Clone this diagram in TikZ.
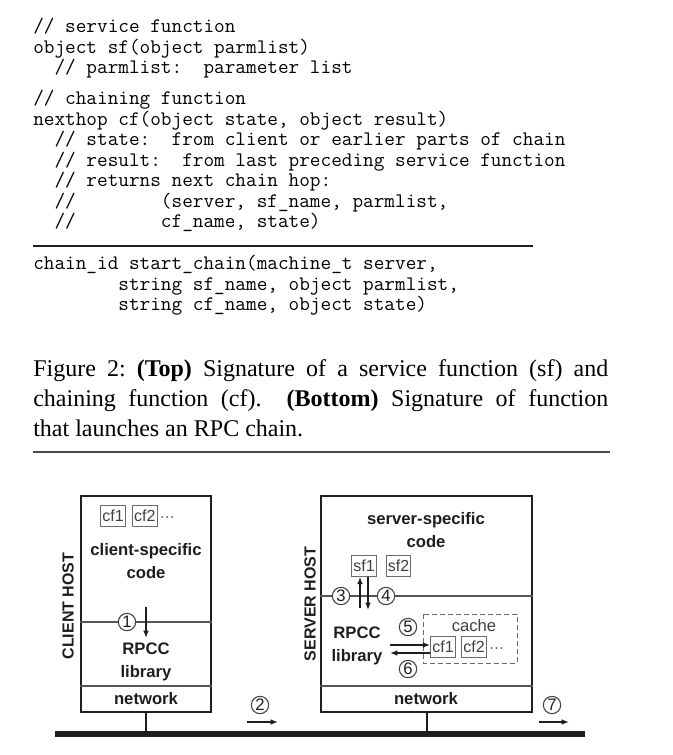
\documentclass[tikz,border=0pt]{standalone}
\usepackage{fontspec}
\setmainfont{Liberation Serif}
\setsansfont{Liberation Sans}
\usetikzlibrary{arrows.meta,positioning}

\definecolor{ink}{HTML}{1E1E1E}
\definecolor{lineg}{HTML}{555555}
\definecolor{boxg}{HTML}{6A6A6A}

\tikzset{
  codeblock/.style={anchor=north west, inner sep=0pt, align=left,
    font=\ttfamily\fontsize{15.5}{15.4}\selectfont\frenchspacing},
  capblock/.style={anchor=north west, inner sep=0pt, text width=431.25pt, align=justify,
    font=\rmfamily\fontsize{18}{22.5}\selectfont\frenchspacing},
  hostbox/.style={draw=ink, line width=1.5pt, minimum height=162pt, inner sep=0pt},
  divline/.style={draw=lineg, line width=0.9pt},
  biglbl/.style={align=center, inner sep=0pt, text=ink,
    font=\sffamily\bfseries\fontsize{12.5}{17.5}\selectfont},
  hostlbl/.style={rotate=90, inner sep=0pt, text=ink,
    font=\sffamily\bfseries\fontsize{12}{14}\selectfont},
  fnbox/.style={draw=boxg, line width=0.75pt, inner sep=1.3pt, minimum height=15.5pt,
    text=ink!85, font=\sffamily\fontsize{12}{14}\selectfont},
  smalllbl/.style={inner sep=0pt, text=ink!85, font=\sffamily\fontsize{12.5}{14}\selectfont},
  morefn/.style={anchor=base west, inner sep=0pt, text=ink!85, font=\sffamily\fontsize{11}{13}\selectfont},
  numcirc/.style={circle, draw=ink!85, line width=0.8pt, fill=white, minimum size=13pt,
    inner sep=0pt, text=ink, font=\sffamily\fontsize{12.5}{13}\selectfont},
  arr/.style={draw=ink, line width=1.25pt, -{Latex[length=5.5pt,width=4.3pt]}},
  busline/.style={draw=ink, line width=3.8pt},
}

\begin{document}
\begin{tikzpicture}[x=0.75pt, y=-0.75pt]

  % page
  \fill[white] (0,0) rectangle (673,755);

  % 1. signatures (top)
  \node[codeblock] (sfsig) at (33,18) {// service function\\
    object sf(object parmlist)\\
    ~~// parmlist:~~parameter list};
  \node[codeblock] (cfsig) at (33,90) {// chaining function\\
    nexthop cf(object state, object result)\\
    ~~// state:~~from client or earlier parts of chain\\
    ~~// result:~~from last preceding service function\\
    ~~// returns next chain hop:\\
    ~~//~~~~~~~~(server, sf\_name, parmlist,\\
    ~~//~~~~~~~~cf\_name, state)};

  \draw[ink, line width=2.2pt] (33,246) -- (533,246);

  % 2. signature (bottom)
  \node[codeblock] (chainsig) at (33,255) {chain\_id start\_chain(machine\_t server,\\
    ~~~~~~~~string sf\_name, object parmlist,\\
    ~~~~~~~~string cf\_name, object state)};

  % 3. caption
  \node[capblock] (caption) at (33,359) {Figure 2: \textbf{(Top)} Signature of a service function (sf) and\linebreak
    chaining function (cf).\ \ \textbf{(Bottom)} Signature of function\linebreak
    that launches an RPC chain.};

  \draw[ink!80, line width=1.8pt] (33,452) -- (610,452);

  % 4. client host
  \node[hostbox, minimum width=97.5pt] (client) at (146,604) {};
  \draw[divline] (client.west |- 0,622) -- (client.east |- 0,622);
  \draw[divline] (client.west |- 0,686) -- (client.east |- 0,686);
  \node[hostlbl] (clientlbl) at (68,606) {CLIENT HOST};
  \node[fnbox] (ccf1) at (113,516) {cf1};
  \node[fnbox, right=4.5pt of ccf1] (ccf2) {cf2};
  \node[morefn] (cdots) at ([xshift=1.5pt]ccf2.base east) {···};
  \node[biglbl] (ccode) at (146,561) {client-specific\\code};
  \node[numcirc] (n1) at (127,622) {1};
  \coordinate (a1s) at (146,607);
  \coordinate (a1e) at (146,638);
  \draw[arr] (a1s) -- (a1e);
  \node[biglbl] (clib) at (146,662) {RPCC\\library};
  \node[biglbl] (cnet) at (146,699) {network};

  % 5. server host
  \node[hostbox, minimum width=158.25pt] (server) at (426.5,604) {};
  \draw[divline] (server.west |- 0,596) -- (server.east |- 0,596);
  \draw[divline] (server.west |- 0,686) -- (server.east |- 0,686);
  \node[hostlbl] (serverlbl) at (310,604) {SERVER HOST};
  \node[biglbl] (scode) at (426,530) {server-specific\\code};
  \node[fnbox] (sf1) at (364,566) {sf1};
  \node[fnbox, right=6.5pt of sf1] (sf2) {sf2};
  \node[numcirc] (n3) at (341,596) {3};
  \node[numcirc] (n4) at (386,596) {4};
  \coordinate (a3s) at (360,608);
  \coordinate (a4e) at (368,610);
  \draw[arr] (a3s) -- (a3s |- sf1.south);
  \draw[arr] (a4e |- sf1.south) -- (a4e);
  \node[biglbl] (slib) at (357,646) {RPCC\\library};

  % cache
  \draw[boxg, line width=0.75pt, dash pattern=on 3.5pt off 2.5pt] (423,614) rectangle (517,663);
  \node[smalllbl] (cachelbl) at (474,626) {cache};
  \node[fnbox] (scf1) at (443,647) {cf1};
  \node[fnbox, right=4pt of scf1] (scf2) {cf2};
  \node[morefn] (sdots) at ([xshift=1.5pt]scf2.base east) {···};
  \node[numcirc] (n5) at (408,627) {5};
  \node[numcirc] (n6) at (408,669) {6};
  \coordinate (a5s) at (390,645);
  \coordinate (a6e) at (390,653);
  \draw[arr] (a5s) -- (scf1.west |- a5s);
  \draw[arr] (scf1.west |- a6e) -- (a6e);
  \node[biglbl] (snet) at (426,699) {network};

  % 6. network bus
  \coordinate (busw) at (55,734);
  \coordinate (buse) at (585,734);
  \draw[busline] (busw) -- (buse);
  \draw[draw=ink, line width=1.5pt] (client.south) -- (client.south |- busw);
  \draw[draw=ink, line width=1.5pt] (server.south) -- (server.south |- busw);

  % 7. messages on the wire
  \node[numcirc] (n2) at (260,705) {2};
  \coordinate (a2s) at (247,722);
  \coordinate (a2e) at (278,722);
  \draw[arr] (a2s) -- (a2e);
  \node[numcirc] (n7) at (552,705) {7};
  \coordinate (a7s) at (539,722);
  \coordinate (a7e) at (569,722);
  \draw[arr] (a7s) -- (a7e);

\end{tikzpicture}
\end{document}
